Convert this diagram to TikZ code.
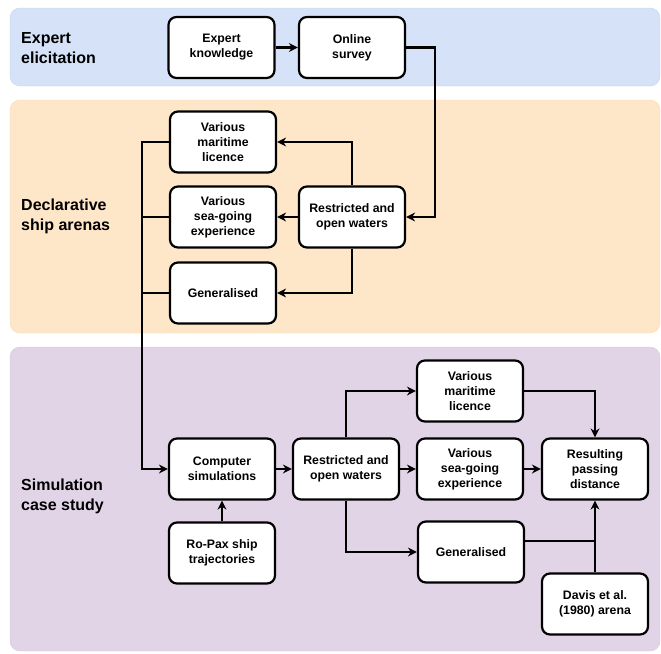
\documentclass[tikz,border=0pt]{standalone}
\usepackage{fontspec}
\setmainfont{Liberation Sans}
\usetikzlibrary{arrows.meta}
\definecolor{laneblue}{RGB}{213,226,247}
\definecolor{laneblueline}{RGB}{196,212,240}
\definecolor{laneorange}{RGB}{254,230,201}
\definecolor{laneorangeline}{RGB}{250,218,178}
\definecolor{lanepurple}{RGB}{226,212,231}
\definecolor{lanepurpleline}{RGB}{214,198,222}

\begin{document}
\begin{tikzpicture}[x=1pt,y=-1pt,
  box/.style={draw,line width=2.2pt,rounded corners=8pt,fill=white,
    minimum width=106pt,minimum height=61pt,inner sep=2pt,align=center,
    font=\bfseries\fontsize{12.3}{15}\selectfont},
  wire/.style={line width=2.2pt},
  flow/.style={wire,-{Stealth[length=9pt,width=9pt]}},
  lanetext/.style={anchor=west,align=left,inner sep=0pt,
    font=\bfseries\fontsize{16}{20}\selectfont}]
  \useasboundingbox (0,0) rectangle (661,653);
  % lanes
  \draw[rounded corners=10pt,fill=laneblue,draw=laneblueline] (10,8) rectangle (660,86);
  \draw[rounded corners=10pt,fill=laneorange,draw=laneorangeline] (10,100) rectangle (660,333);
  \draw[rounded corners=10pt,fill=lanepurple,draw=lanepurpleline] (10,347) rectangle (660,651);
  \node[lanetext] (elic) at (21,48) {Expert\\elicitation};
  \node[lanetext] (decl) at (21,216) {Declarative\\ship arenas};
  \node[lanetext] (case) at (21,496) {Simulation\\case study};
  % expert elicitation
  \node[box] (know) at (221.5,47.5) {Expert\\knowledge};
  \node[box] (survey) at (352,47.5) {Online\\survey};
  % declarative ship arenas
  \node[box] (dlic) at (223,142) {Various\\maritime\\licence};
  \node[box] (dexp) at (223,217) {Various\\sea-going\\experience};
  \node[box] (dgen) at (223,293) {Generalised};
  \node[box] (dwat) at (352,217) {Restricted and\\open waters};
  % simulation case study
  \node[box] (sim) at (222,469) {Computer\\simulations};
  \node[box] (ropax) at (222,553) {Ro-Pax ship\\trajectories};
  \node[box] (swat) at (346,469) {Restricted and\\open waters};
  \node[box] (slic) at (470,391) {Various\\maritime\\licence};
  \node[box] (sexp) at (470,469) {Various\\sea-going\\experience};
  \node[box] (sgen) at (471,552) {Generalised};
  \node[box] (result) at (595,469) {Resulting\\passing\\distance};
  \node[box] (davis) at (595,604) {Davis et al.\\(1980) arena};
  % connectors
  \draw[flow] (know) -- (survey);
  \draw[flow] (survey.east) -- ++(29,0) |- (dwat.east);
  \draw[flow] (dwat) -- (dexp);
  \draw[flow] (dwat.north) |- (dlic.east);
  \draw[flow] (dwat.south) |- (dgen.east);
  \draw[flow] (dlic.west) -- ++(-27,0) |- (sim.west);
  \draw[wire] (dexp.west) -- ++(-27,0);
  \draw[wire] (dgen.west) -- ++(-27,0);
  \draw[flow] (ropax) -- (sim);
  \draw[flow] (sim) -- (swat);
  \draw[flow] (swat) -- (sexp);
  \draw[flow] (sexp) -- (result);
  \draw[flow] (swat.north) |- (slic.west);
  \draw[flow] (swat.south) |- (sgen.west);
  \draw[flow] (slic.east) -| (result.north);
  \draw[wire] ([yshift=11pt]sgen.east) -- ([yshift=11pt]sgen.east -| davis.north);
  \draw[flow] (davis) -- (result);
\end{tikzpicture}
\end{document}
